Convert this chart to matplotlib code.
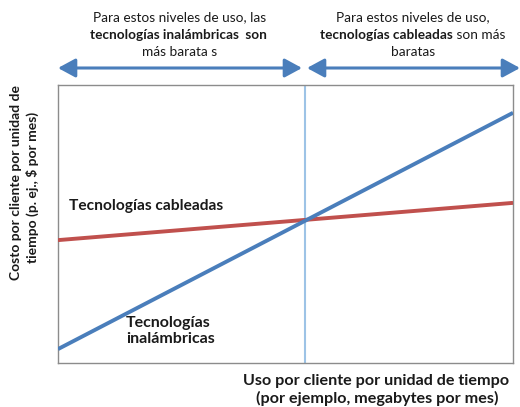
import matplotlib
matplotlib.use("Agg")
import matplotlib.pyplot as plt
from matplotlib.patches import FancyArrowPatch

plt.rcParams['font.family'] = ['Lato', 'DejaVu Sans']

# Data (arbitrary units)
x_range = [0, 10]
cableadas = [4.42, 5.76]      # cost at x=0 and x=10
inalambricas = [0.50, 9.00]
crossover_x = 5.43

W, H = 520, 407
fig = plt.figure(figsize=(W / 100, H / 100), dpi=100)

def fx(px):
    return px / W

def fy(py):
    return 1 - py / H

ax = fig.add_axes([fx(58), fy(363), fx(513) - fx(58), fy(85) - fy(363)])
ax.set_xlim(0, 10)
ax.set_ylim(0, 10)
ax.set_xticks([])
ax.set_yticks([])
for s in ax.spines.values():
    s.set_color('#8c8c8c')
    s.set_linewidth(1.0)

ax.axvline(crossover_x, color='#9dc3e6', lw=1.5, zorder=1)
ax.plot(x_range, cableadas, color='#c0504d', lw=2.8, solid_capstyle='butt', zorder=3)
ax.plot(x_range, inalambricas, color='#4a7ebb', lw=2.8, solid_capstyle='butt', zorder=4)

ax.text(0.25, 5.65, 'Tecnologías cableadas', fontsize=11.2, fontweight='bold',
        color='#1a1a1a', va='center', ha='left')
ax.text(1.5, 1.15, 'Tecnologías\ninalámbricas', fontsize=11.5, fontweight='bold',
        color='#1a1a1a', va='center', ha='left', linespacing=1.1)

# axis labels
xl = 11.6
fig.text(fx(376), fy(381), 'Uso por cliente por unidad de tiempo', fontsize=xl,
         fontweight='bold', ha='center', va='center', color='#1a1a1a')
fig.text(fx(377), fy(398), '(por ejemplo, megabytes por mes)', fontsize=xl,
         fontweight='bold', ha='center', va='center', color='#1a1a1a')
yl = 10.0
fig.text(fx(16), fy(183), 'Costo por cliente por unidad de', fontsize=yl,
         fontweight='bold', ha='center', va='center', rotation=90, color='#1a1a1a')
fig.text(fx(32), fy(187), 'tiempo (p. ej., $ por mes)', fontsize=yl,
         fontweight='bold', ha='center', va='center', rotation=90, color='#1a1a1a')

# top annotations
fs = 9.8
fig.text(fx(180), fy(17), 'Para estos niveles de uso, las', fontsize=fs,
         ha='center', va='center', color='#1a1a1a')
fig.text(fx(178), fy(35), 'tecnologías inalámbricas  son', fontsize=fs,
         fontweight='bold', ha='center', va='center', color='#1a1a1a')
fig.text(fx(180), fy(52), 'más barata s', fontsize=fs,
         ha='center', va='center', color='#1a1a1a')

fig.text(fx(413), fy(17), 'Para estos niveles de uso,', fontsize=fs,
         ha='center', va='center', color='#1a1a1a')
t_b = fig.text(0, fy(35), 'tecnologías cableadas', fontsize=fs,
               fontweight='bold', ha='left', va='baseline', color='#1a1a1a')
t_r = fig.text(0, fy(35), ' son más', fontsize=fs,
               ha='left', va='baseline', color='#1a1a1a')
fig.text(fx(413), fy(52), 'baratas', fontsize=fs,
         ha='center', va='center', color='#1a1a1a')

r = fig.canvas.get_renderer()
wb = t_b.get_window_extent(r).width
wr = t_r.get_window_extent(r).width
total = wb + wr
x0 = min(413 - total / 2, 519 - total)
t_b.set_position((fx(x0), fy(39)))
t_r.set_position((fx(x0 + wb), fy(39)))

arrow_kw = dict(arrowstyle='<|-|>,head_length=0.7,head_width=0.38',
                color='#4a7ebb', lw=2.2, shrinkA=0, shrinkB=0)
fig.add_artist(FancyArrowPatch(
    (fx(58), fy(68)), (fx(302), fy(68)), transform=fig.transFigure,
    mutation_scale=15, **arrow_kw))
fig.add_artist(FancyArrowPatch(
    (fx(307), fy(68)), (fx(520), fy(68)), transform=fig.transFigure,
    mutation_scale=15, **arrow_kw))

fig.savefig('out.png', dpi=100)
